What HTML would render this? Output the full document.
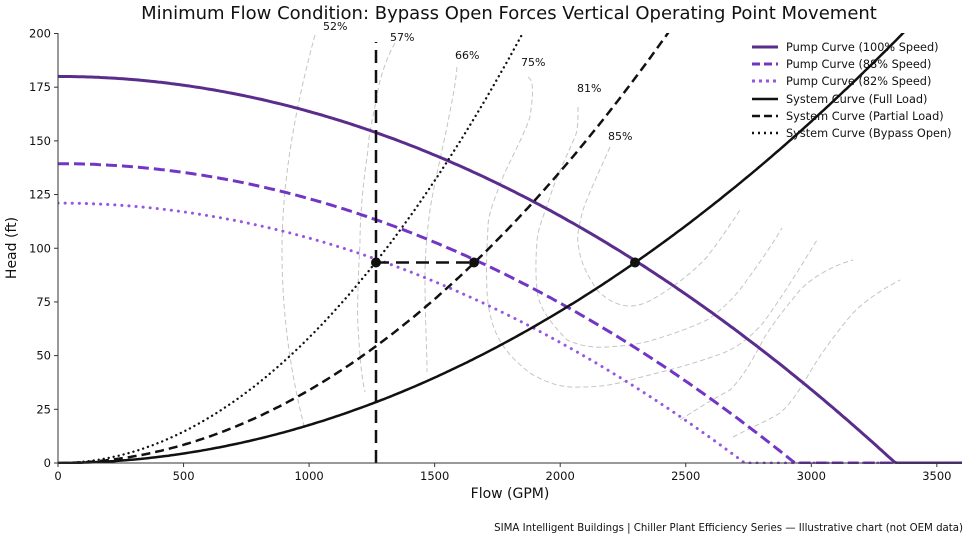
<!DOCTYPE html>
<html><head><meta charset="utf-8"><style>
body{margin:0;background:#fff;}
svg{display:block;font-family:"DejaVu Sans","Liberation Sans",sans-serif;}
</style></head><body>
<svg id="s" width="975" height="535" xmlns="http://www.w3.org/2000/svg">
<defs><clipPath id="c"><rect x="58" y="33" width="917" height="431"/></clipPath></defs>
<text x="509" y="19" font-size="18" text-anchor="middle" fill="#111">Minimum Flow Condition: Bypass Open Forces Vertical Operating Point Movement</text>
<g fill="none" stroke="#c4c4c4" stroke-width="1" stroke-dasharray="5,3">
<path d="M315,35 C300,90 282,170 282,250 C282,330 295,390 305,430"/>
<path d="M395,43 C385,60 378,85 377,97 C372,120 368,140 368,150 C362,190 360,220 360,243 C358,280 357,310 358,327 C360,360 362,380 365,392"/>
<path d="M457,67 C455,90 450,110 447,127 C440,160 433,190 430,210 C426,240 425,260 425,277 C425,320 427,350 427,372"/>
<path d="M528,77 C533,80 534,90 530,117 C522,140 510,160 503,177 C494,200 488,215 488,227 C486,260 486,285 488,303 C492,330 500,350 530,373 C550,385 565,388 580,387 C600,387 610,385 623,382 C645,376 662,372 680,367 C700,361 717,356 730,350 C745,342 755,332 763,323 C780,300 800,268 817,240"/>
<path d="M578,107 C578,120 578,130 575,137 C565,160 555,180 550,197 C542,220 537,232 537,243 C535,265 536,285 538,297 C542,310 548,320 567,340 C580,346 595,348 607,347 C625,346 640,344 653,340 C673,334 690,328 707,320 C722,310 737,295 747,280 C760,262 772,245 782,228"/>
<path d="M610,147 C600,170 590,190 583,210 C579,225 577,235 578,243 C580,260 585,272 597,290 C607,300 618,306 630,306 C642,306 652,300 663,293 C680,282 695,270 707,257 C720,240 730,225 740,210"/>
<path d="M680,420 C700,407 715,398 730,390 C745,375 755,355 763,340 C775,320 788,305 800,290 C815,275 835,265 853,260"/>
<path d="M733,437 C750,428 765,422 780,413 C795,400 805,380 813,367 C825,348 840,328 853,313 C868,298 885,288 900,280"/>
</g>
<g font-size="11" fill="#111">
<text x="323" y="30">52%</text><text x="390" y="41">57%</text><text x="455" y="59">66%</text>
<text x="521" y="66">75%</text><text x="577" y="92">81%</text><text x="608" y="140">85%</text>
</g>
<g id="curves" clip-path="url(#c)" fill="none"></g>
<line x1="376" y1="463" x2="376" y2="42" stroke="#111" stroke-width="2.5" stroke-dasharray="13,7"/>
<line x1="376" y1="262.5" x2="474" y2="262.5" stroke="#111" stroke-width="2.5" stroke-dasharray="13,7"/>
<g fill="#111"><circle cx="376" cy="262.5" r="5"/><circle cx="474" cy="262.5" r="5"/><circle cx="635" cy="262.5" r="5"/></g>
<g stroke="#333" stroke-width="1"><line x1="58" y1="33" x2="58" y2="463"/><line x1="58" y1="463" x2="962" y2="463"/></g>
<g id="ticks" font-size="11.5" fill="#111"></g>
<text x="16" y="248" font-size="14" text-anchor="middle" transform="rotate(-90 16 248)" fill="#111">Head (ft)</text>
<text x="510" y="498" font-size="14" text-anchor="middle" fill="#111">Flow (GPM)</text>
<text x="963" y="531" font-size="10.2" text-anchor="end" fill="#111">SIMA Intelligent Buildings | Chiller Plant Efficiency Series — Illustrative chart (not OEM data)</text>
<g font-size="11.3" fill="#111">
<line x1="752" y1="47" x2="778" y2="47" stroke="#5a2d8c" stroke-width="3"/><text x="786" y="51">Pump Curve (100% Speed)</text>
<line x1="752" y1="64" x2="778" y2="64" stroke="#7336c4" stroke-width="3" stroke-dasharray="8,4"/><text x="786" y="68">Pump Curve (88% Speed)</text>
<line x1="752" y1="81" x2="778" y2="81" stroke="#9657e0" stroke-width="3" stroke-dasharray="3,4"/><text x="786" y="85">Pump Curve (82% Speed)</text>
<line x1="752" y1="99" x2="778" y2="99" stroke="#111" stroke-width="2.5"/><text x="786" y="103">System Curve (Full Load)</text>
<line x1="752" y1="116" x2="778" y2="116" stroke="#111" stroke-width="2.5" stroke-dasharray="8,4"/><text x="786" y="120">System Curve (Partial Load)</text>
<line x1="752" y1="133" x2="778" y2="133" stroke="#111" stroke-width="2.5" stroke-dasharray="2,4"/><text x="786" y="137">System Curve (Bypass Open)</text>
</g>
</svg>
<script>
var X=function(q){return 58+q*0.2511},Y=function(h){return 463-h*2.1475};
var g=document.getElementById('curves'),ns='http://www.w3.org/2000/svg';
function add(f,stroke,w,dash,cap){var d='';for(var q=0;q<=3600;q+=10){var h=Math.max(0,f(q));if(h>215)h=215;d+=(q?'L':'M')+X(q).toFixed(1)+','+Y(h).toFixed(1);}
var p=document.createElementNS(ns,'path');p.setAttribute('d',d);p.setAttribute('stroke',stroke);p.setAttribute('stroke-width',w);if(dash)p.setAttribute('stroke-dasharray',dash);if(cap)p.setAttribute('stroke-linecap',cap);g.appendChild(p);}
var k=86.5/2300/2300;
function pump(s){var q0=3335*s;return function(q){var h=180*s*s-k*q*q;var hz=180*s*s-k*q0*q0;return h-hz*Math.pow(q/q0,3);};}
add(pump(.82),'#9657e0',3,'0.1,7','round');
add(pump(.88),'#7336c4',3,'11,5');
add(pump(1),'#5a2d8c',3);
add(function(q){return 93.5/2300/2300*q*q},'#111',2.5);
add(function(q){return 93.5/1660/1660*q*q},'#111',2.5,'9,5');
add(function(q){return 93.5/1265/1265*q*q},'#111',2.3,'0.1,5','round');
var t=document.getElementById('ticks');
function tx(x,y,s,a){var e=document.createElementNS(ns,'text');e.setAttribute('x',x);e.setAttribute('y',y);e.setAttribute('text-anchor',a);e.textContent=s;t.appendChild(e);}
function ln(x1,y1,x2,y2){var e=document.createElementNS(ns,'line');e.setAttribute('x1',x1);e.setAttribute('y1',y1);e.setAttribute('x2',x2);e.setAttribute('y2',y2);e.setAttribute('stroke','#333');t.appendChild(e);}
for(var q=0;q<=3500;q+=500){ln(X(q),463,X(q),467);tx(X(q),480,q,'middle');}
for(var h=0;h<=200;h+=25){ln(54,Y(h),58,Y(h));tx(51,Y(h)+4,h,'end');}
</script>
</body></html>
